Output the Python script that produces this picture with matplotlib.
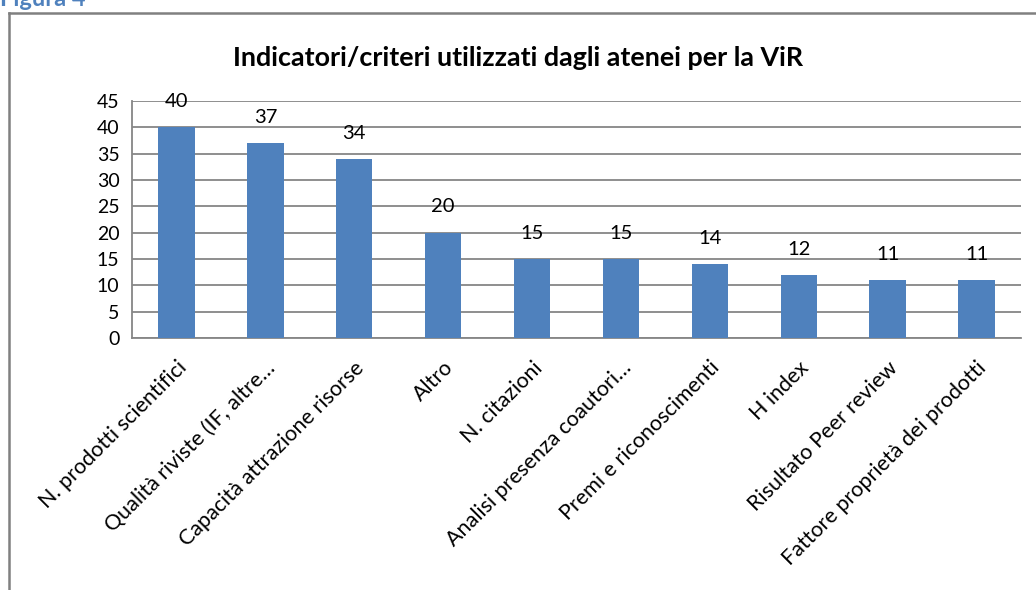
import matplotlib.pyplot as plt
from matplotlib.lines import Line2D

categories = ['N. prodotti scientifici', 'Qualità riviste (IF, altre…',
              'Capacità attrazione risorse', 'Altro', 'N. citazioni',
              'Analisi presenza coautori…', 'Premi e riconoscimenti',
              'H index', 'Risultato Peer review', 'Fattore proprietà dei prodotti']
values = [40, 37, 34, 20, 15, 15, 14, 12, 11, 11]
yticks = list(range(0, 50, 5))

plt.rcParams['font.family'] = ['Lato', 'DejaVu Sans']

fig = plt.figure(figsize=(10.36, 5.9), dpi=100)
ax = fig.add_axes([0.1274, 0.4271, 0.8581, 0.4017])

x = range(len(categories))
ax.bar(x, values, width=0.41, color='#4F81BD', zorder=3)
for xi, v in zip(x, values):
    ax.text(xi, v + 4.9, str(v), ha='center', va='center', fontsize=14.5, zorder=4)

ax.set_xlim(-0.5, len(categories) - 0.5)
ax.set_ylim(0, 45)
ax.set_yticks(yticks)
ax.yaxis.grid(True, color='#868686', linewidth=1.3, zorder=0)
ax.tick_params(axis='y', length=0, labelsize=14, pad=9)
ax.tick_params(axis='x', length=0, labelsize=15.5, pad=14)
ax.set_xticks(list(x))
ax.set_xticklabels(categories, rotation=45, ha='right', rotation_mode='anchor')

for s in ['top', 'right']:
    ax.spines[s].set_visible(False)
for s in ['left', 'bottom']:
    ax.spines[s].set_color('#868686')
    ax.spines[s].set_linewidth(1.3)

fig.text(0.5, 1 - 58 / 590, 'Indicatori/criteri utilizzati dagli atenei per la ViR',
         ha='center', va='center', fontsize=19.4, fontweight='bold')

# cornice del grafico
fig.add_artist(Line2D([9 / 1036, 1.0], [1 - 13 / 590, 1 - 13 / 590],
                      transform=fig.transFigure, color='#808080', linewidth=1.8))
fig.add_artist(Line2D([9 / 1036, 9 / 1036], [0.0, 1 - 13 / 590],
                      transform=fig.transFigure, color='#808080', linewidth=1.8))
fig.text(0.0, 1 - 6 / 590, 'Figura 4', ha='left', va='baseline', fontsize=17,
         fontweight='bold', color='#4F81BD')

fig.savefig('out.png', dpi=100)
